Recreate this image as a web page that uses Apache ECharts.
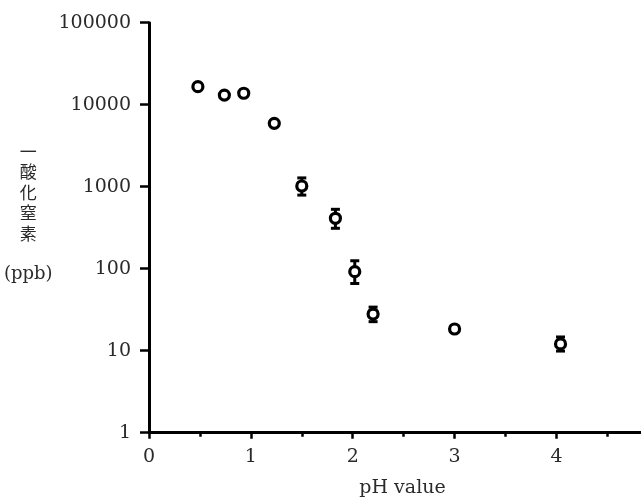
<!DOCTYPE html>
<html>
<head>
<meta charset="utf-8">
<script src="https://cdn.jsdelivr.net/npm/echarts@6/dist/echarts.min.js"></script>
<style>
  html, body { margin: 0; padding: 0; background: #fff; }
  #main { width: 641px; height: 497px; }
</style>
</head>
<body>
<div id="main"></div>
<script>
// 数据
var phValues = [0.48, 0.74, 0.93, 1.23, 1.50, 1.83, 2.02, 2.20, 3.00, 4.04];
var noValues = [16600, 13100, 13800, 5930, 1020, 412, 92, 28, 18.4, 12.1];
// 误差棒
var errPh = [1.50, 1.83, 2.02, 2.20, 4.04];
var errLow = [790, 311, 66, 22.6, 9.9];
var errHigh = [1280, 530, 125, 34, 14.7];
// 刻度
var xTicks = [0, 1, 2, 3, 4];
var yTicks = [1, 10, 100, 1000, 10000, 100000];

var serif = 'DejaVu Serif';
var textColor = '#2a2a2a';

var points = phValues.map(function (x, i) { return [x, noValues[i]]; });
var bars = errPh.map(function (x, i) { return [x, errLow[i], errHigh[i]]; });

var myChart = echarts.init(document.getElementById('main'));

var option = {
  animation: false,
  grid: { left: 149, top: 22.7, right: 0, bottom: 64.3, outerBoundsMode: 'none', containLabel: false },
  xAxis: {
    type: 'value',
    min: 0,
    max: 4.83,
    interval: 1,
    name: 'pH value',
    nameLocation: 'middle',
    nameGap: 46,
    nameTextStyle: { fontFamily: serif, fontSize: 19, color: textColor, padding: [0, 0, 0, 15] },
    axisLine: { lineStyle: { color: '#000', width: 3 } },
    axisTick: { show: true, inside: false, length: 6, customValues: xTicks, lineStyle: { color: '#000', width: 2.5 } },
    minorTick: { show: true, splitNumber: 2, length: 4, lineStyle: { color: '#000', width: 2.5 } },
    splitLine: { show: false },
    axisLabel: {
      customValues: xTicks,
      margin: 15,
      fontFamily: serif,
      fontSize: 19,
      color: textColor
    }
  },
  yAxis: {
    type: 'log',
    logBase: 10,
    min: 1,
    max: 100000,
    name: '{c|一}\n{c|酸}\n{c|化}\n{c|窒}\n{c|素}\n{c| }\n{p|(ppb)}',
    nameLocation: 'middle',
    nameRotate: 0,
    nameGap: 118,
    nameTextStyle: {
      align: 'center',
      verticalAlign: 'middle',
      padding: [0, 0, 30, 0],
      rich: {
        c: { fontFamily: 'Noto Sans CJK JP', fontSize: 17, lineHeight: 20.5, color: textColor },
        p: { fontFamily: serif, fontSize: 18, lineHeight: 20.5, color: textColor }
      }
    },
    axisLine: { lineStyle: { color: '#000', width: 3 } },
    axisTick: { show: true, inside: false, length: 9, customValues: yTicks, lineStyle: { color: '#000', width: 2.5 } },
    splitLine: { show: false },
    axisLabel: {
      customValues: yTicks,
      margin: 18,
      fontFamily: serif,
      fontSize: 19,
      color: textColor,
      formatter: function (v) { return String(Math.round(v)); }
    }
  },
  series: [
    {
      type: 'custom',
      z: 2,
      data: bars,
      renderItem: function (params, api) {
        var x = api.value(0);
        var lo = api.coord([x, api.value(1)]);
        var hi = api.coord([x, api.value(2)]);
        var half = 4.5;
        var style = { stroke: '#000', lineWidth: 3 };
        return {
          type: 'group',
          children: [
            { type: 'line', shape: { x1: lo[0], y1: lo[1], x2: hi[0], y2: hi[1] }, style: style },
            { type: 'line', shape: { x1: lo[0] - half, y1: lo[1], x2: lo[0] + half, y2: lo[1] }, style: style },
            { type: 'line', shape: { x1: hi[0] - half, y1: hi[1], x2: hi[0] + half, y2: hi[1] }, style: style }
          ]
        };
      }
    },
    {
      type: 'scatter',
      z: 3,
      symbol: 'circle',
      symbolSize: 10,
      itemStyle: { color: '#fff', borderColor: '#000', borderWidth: 3.2, opacity: 1 },
      data: points
    }
  ]
};

myChart.setOption(option);
</script>
</body>
</html>
